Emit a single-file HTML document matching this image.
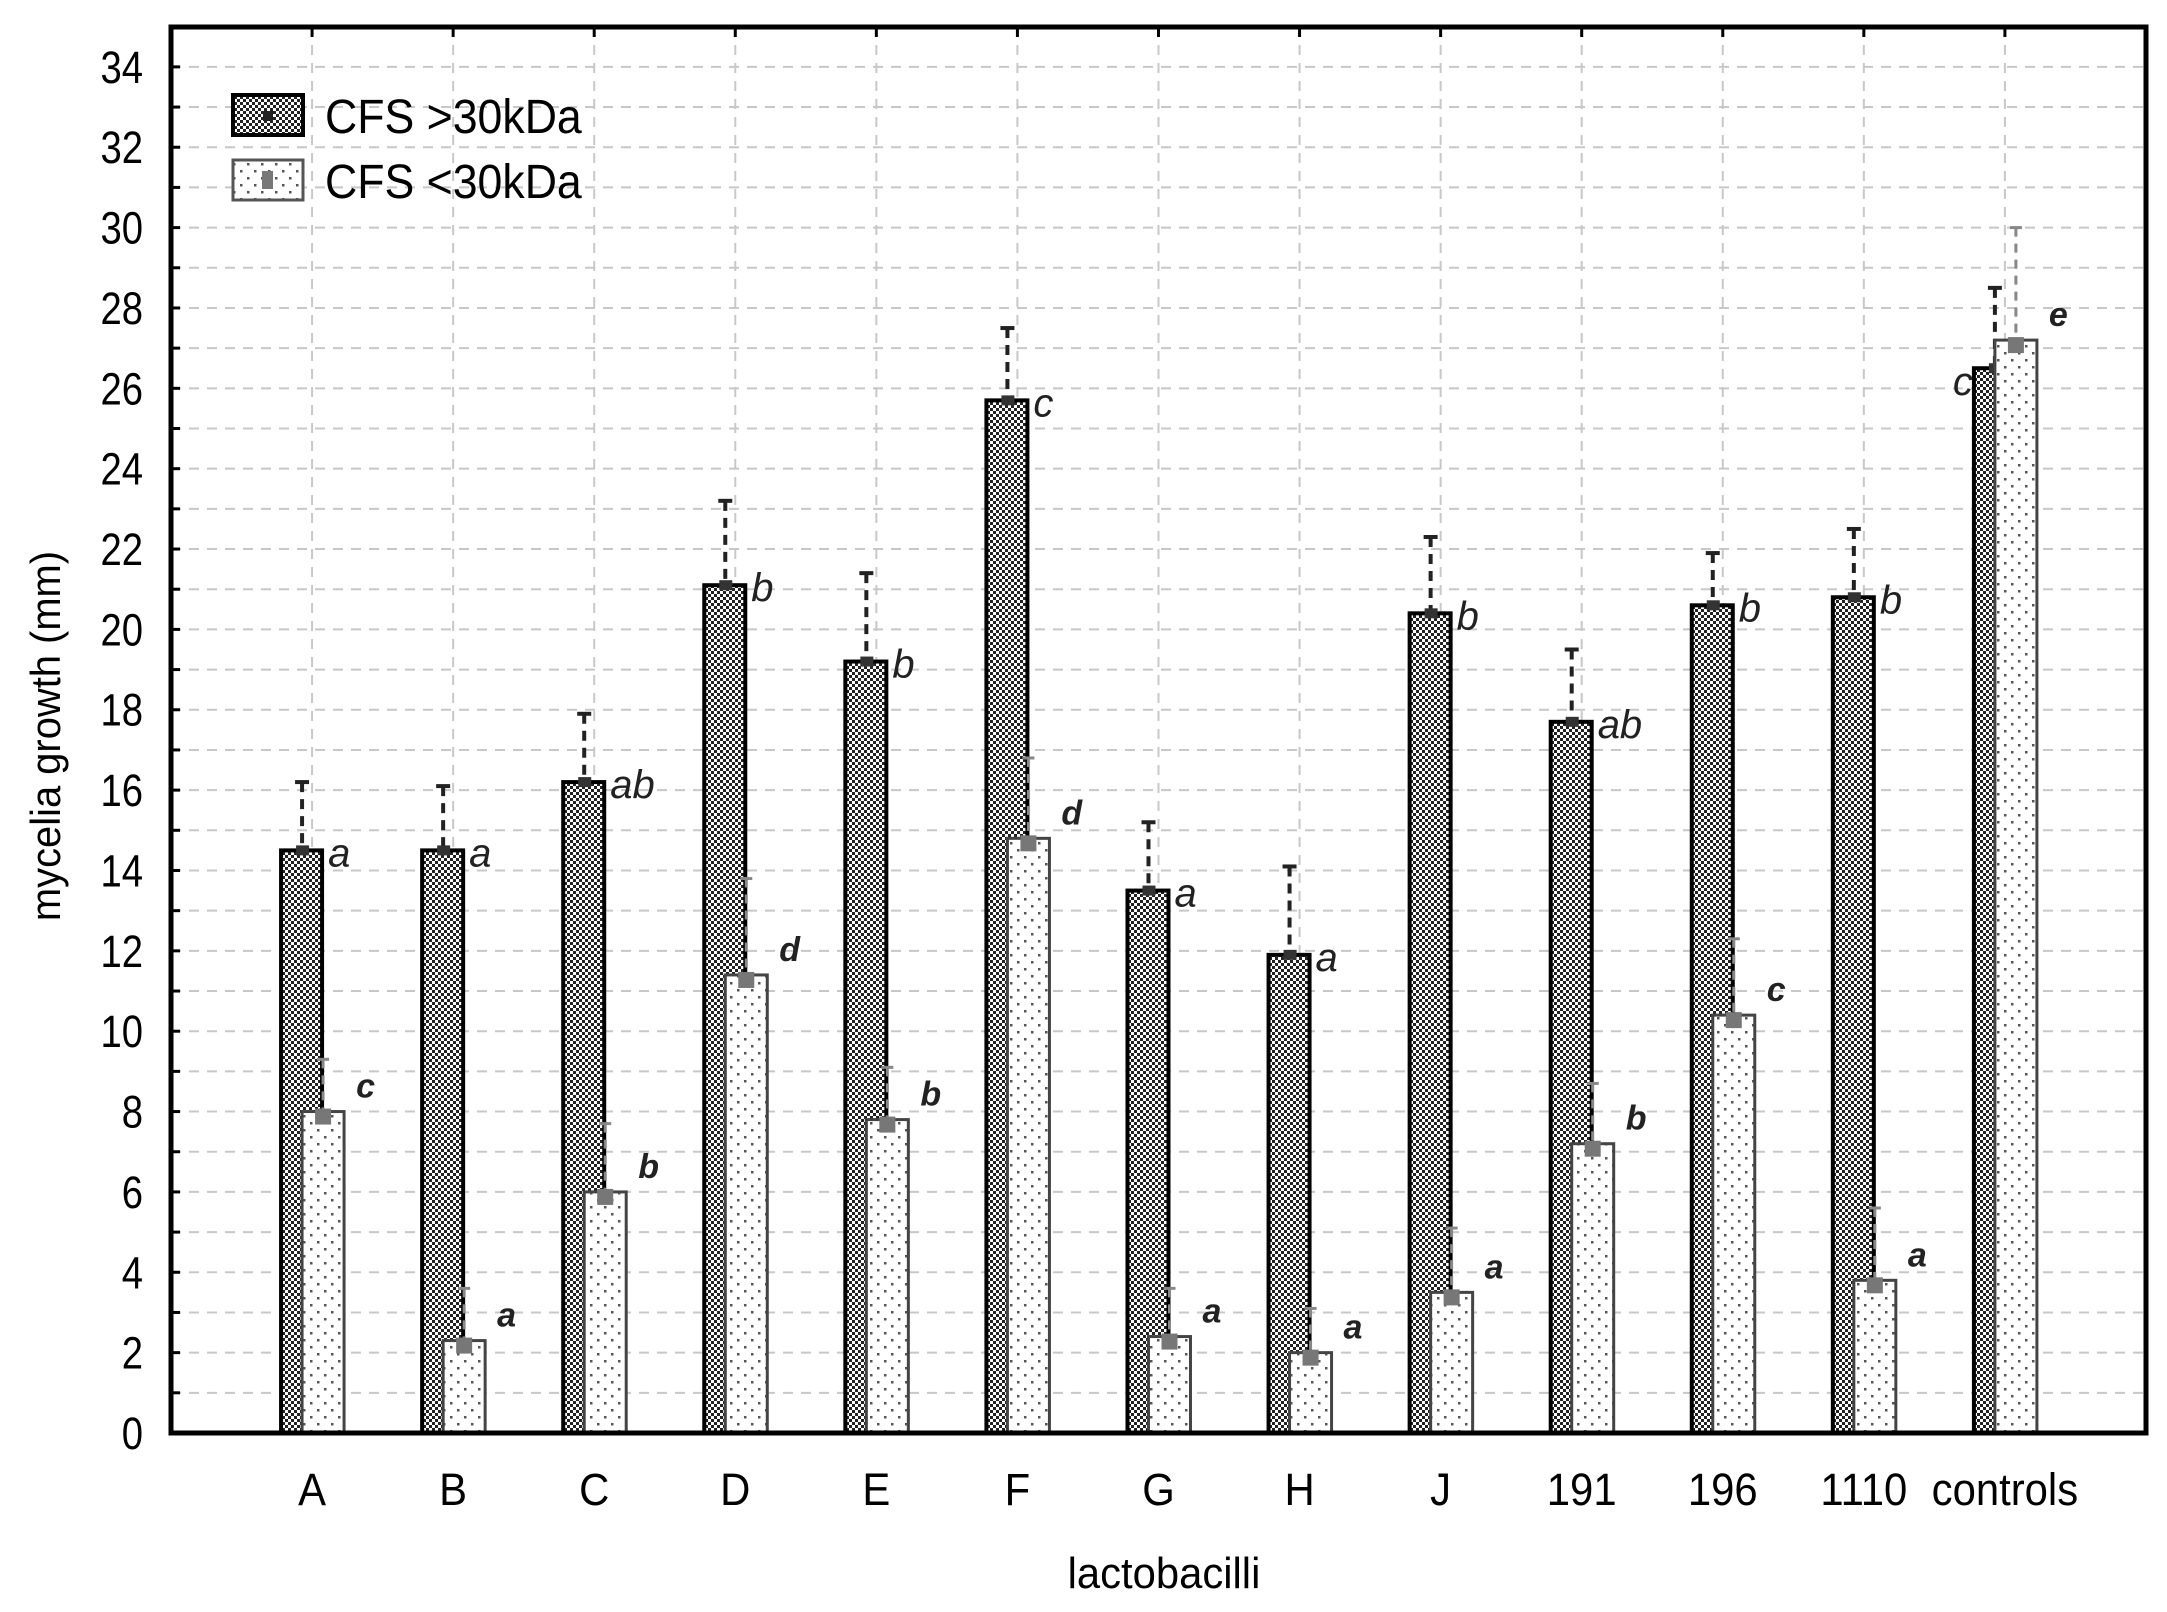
<!DOCTYPE html>
<html><head><meta charset="utf-8"><style>
html,body{margin:0;padding:0;background:#fff;}
svg{display:block;}
text{font-family:"Liberation Sans",Arial,sans-serif;}
</style></head><body>
<svg id="s" width="2167" height="1612" viewBox="0 0 2167 1612" xmlns="http://www.w3.org/2000/svg">
<defs>
<pattern id="chk" width="6" height="6" patternUnits="userSpaceOnUse">
<rect width="6" height="6" fill="#fff"/>
<rect width="3" height="3" fill="#222"/><rect x="3" y="3" width="3" height="3" fill="#222"/>
</pattern>
<pattern id="dot" width="14" height="14" patternUnits="userSpaceOnUse">
<rect width="14" height="14" fill="#fff"/>
<rect x="2" y="2" width="2.5" height="2.5" fill="#555"/><rect x="9" y="9" width="2.5" height="2.5" fill="#555"/>
</pattern>
</defs>
<g id="g"></g>
</svg>
<script>
const g=document.getElementById('g');
let h='';
const L=171,R=2146,T=27,B=1433,U=40.18;
const Y=v=>B-v*U;
const sp=141.07;
const cats=['A','B','C','D','E','F','G','H','J','191','196','1110','controls'];
const d=[14.5,14.5,16.2,21.1,19.2,25.7,13.5,11.9,20.4,17.7,20.6,20.8,26.5];
const de=[16.2,16.1,17.9,23.2,21.4,27.5,15.2,14.1,22.3,19.5,21.9,22.5,28.5];
const l=[8.0,2.3,6.0,11.4,7.8,14.8,2.4,2.0,3.5,7.2,10.4,3.8,27.2];
const le=[9.3,3.6,7.7,13.8,9.1,16.8,3.6,3.1,5.1,8.7,12.3,5.6,30.0];
const dl=['a','a','ab','b','b','c','a','a','b','ab','b','b','c'];
const ll=['c','a','b','d','b','d','a','a','a','b','c','a','e'];
for(let v=0;v<=35;v++){const y=Y(v);if(y<T)break;
 h+=`<line x1="${L}" x2="${R}" y1="${y}" y2="${y}" stroke="#c8c8c8" stroke-width="2" stroke-dasharray="10,8"/>`;
 h+=`<line x1="${L}" x2="${L+9}" y1="${y}" y2="${y}" stroke="#000" stroke-width="3"/>`;
 if(v%2==0)h+=`<text x="143" y="${y+16}" font-size="45" text-anchor="end" transform="translate(143 0) scale(0.85 1) translate(-143 0)">${v}</text>`;
}
for(let i=0;i<13;i++){const c=L+sp*(i+1);
 h+=`<line x1="${c}" x2="${c}" y1="${T}" y2="${B}" stroke="#c8c8c8" stroke-width="2" stroke-dasharray="10,8"/>`;
 h+=`<line x1="${c}" x2="${c}" y1="${T}" y2="${T+10}" stroke="#000" stroke-width="3"/>`;
}
for(let i=0;i<13;i++){const c=L+sp*(i+1);
 h+=`<rect x="${c-31}" y="${Y(d[i])}" width="41" height="${B-Y(d[i])}" fill="url(#chk)" stroke="#000" stroke-width="4"/>`;
 h+=`<line x1="${c-10}" x2="${c-10}" y1="${Y(de[i])}" y2="${Y(d[i])}" stroke="#222" stroke-width="4" stroke-dasharray="10,7"/>`;
 h+=`<line x1="${c-17}" x2="${c-3}" y1="${Y(de[i])}" y2="${Y(de[i])}" stroke="#222" stroke-width="4"/>`;
 h+=`<rect x="${c-16}" y="${Y(d[i])-5}" width="13" height="10" fill="#333"/>`;
 h+=`<rect x="${c-10}" y="${Y(l[i])}" width="42" height="${B-Y(l[i])}" fill="url(#dot)" stroke="#444" stroke-width="3"/>`;
 h+=`<line x1="${c+11}" x2="${c+11}" y1="${Y(le[i])}" y2="${Y(l[i])}" stroke="#888" stroke-width="3" stroke-dasharray="9,7"/>`;
 h+=`<line x1="${c+5}" x2="${c+17}" y1="${Y(le[i])}" y2="${Y(le[i])}" stroke="#888" stroke-width="3"/>`;
 h+=`<rect x="${c+3}" y="${Y(l[i])-3}" width="16" height="16" fill="#777"/>`;
 if(i==12){h+=`<text x="${c-52}" y="${Y(d[i])+27}" font-size="40" font-style="italic" fill="#222">${dl[i]}</text>`;}
 else h+=`<text x="${c+16}" y="${Y(d[i])+16}" font-size="40" font-style="italic" fill="#222">${dl[i]}</text>`;
 h+=`<text x="${c+44}" y="${Y(l[i])-14}" font-size="34" font-style="italic" font-weight="bold" fill="#222">${ll[i]}</text>`;
 h+=`<text x="${c}" y="1505" font-size="45" text-anchor="middle" transform="translate(${c} 0) scale(0.93 1) translate(${-c} 0)">${cats[i]}</text>`;
}
h+=`<rect x="${L}" y="${T}" width="${R-L}" height="${B-T}" fill="none" stroke="#000" stroke-width="5"/>`;
h+=`<rect x="233" y="95" width="70" height="40" fill="url(#chk)" stroke="#000" stroke-width="4"/><rect x="263" y="111" width="10" height="10" fill="#222"/>`;
h+=`<rect x="233" y="160" width="70" height="40" fill="url(#dot)" stroke="#555" stroke-width="3"/><rect x="262" y="171" width="11" height="18" fill="#777"/>`;
h+=`<text x="325" y="133" font-size="48" transform="translate(325 0) scale(0.93 1) translate(-325 0)">CFS &gt;30kDa</text>`;
h+=`<text x="325" y="198" font-size="48" transform="translate(325 0) scale(0.93 1) translate(-325 0)">CFS &lt;30kDa</text>`;
h+=`<text x="1164" y="1588" font-size="44" text-anchor="middle" transform="translate(1164 0) scale(0.95 1) translate(-1164 0)">lactobacilli</text>`;
h+=`<text x="0" y="0" font-size="42" text-anchor="middle" transform="translate(60 736) rotate(-90) scale(0.95 1)">mycelia growth (mm)</text>`;
g.innerHTML=h;
</script>
</body></html>
